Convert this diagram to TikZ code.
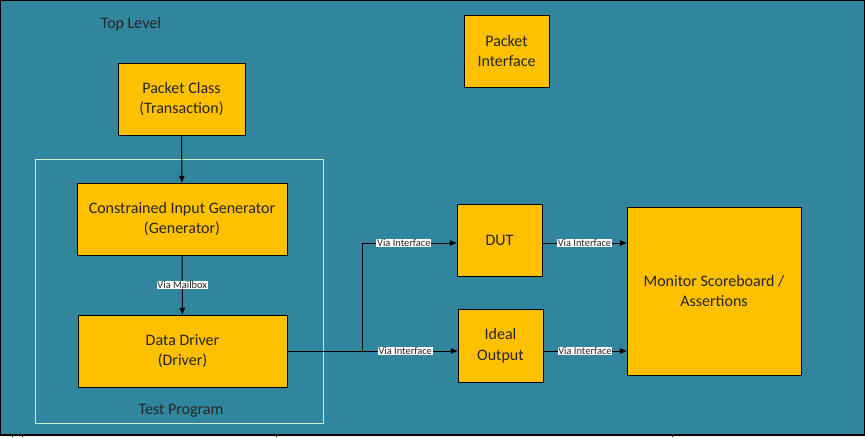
\documentclass[tikz,border=0pt]{standalone}
\usepackage{fontspec}
\setmainfont{Carlito}
\usetikzlibrary{arrows.meta,positioning,calc}
\definecolor{tealbg}{RGB}{49,133,156}
\definecolor{boxfill}{RGB}{255,192,0}
\definecolor{mint}{RGB}{204,236,206}
\tikzset{
  blk/.style={draw=black,line width=0.7pt,fill=boxfill,align=center,text=black!85,
    font=\fontsize{12}{15.5}\selectfont,inner sep=1pt},
  link/.style={line width=0.75pt,-{Triangle[length=5pt,width=4pt]}},
  via/.style={fill=white,text=black!85,font=\fontsize{7.8}{8.5}\selectfont,inner sep=0.6pt}
}
\begin{document}
\begin{tikzpicture}[x=0.75pt,y=-0.75pt]
\useasboundingbox (0,0) rectangle (865,437);
% Background frame
\fill[white] (0,0) rectangle (865,437);
\draw[fill=tealbg,line width=1pt] (0.5,0.5) rectangle (864.5,435);
\foreach \x in {12,22,276,672} {
  \draw[line width=0.6pt] (\x,435) -- (\x,437);
}
\node[text=black!85,font=\fontsize{12}{15}\selectfont] (top) at (131,24) {Top Level};
% Test program container
\draw[mint,line width=0.7pt] (35,159) rectangle (323,423);
\node[text=black!85,font=\fontsize{12}{15}\selectfont] (tprog) at (181,411) {Test Program};
% Blocks
\node[blk,minimum width=95.25pt,minimum height=54pt] (pkt) at (181.5,99) {Packet Class\\(Transaction)};
\node[blk,minimum width=63.75pt,minimum height=54pt] (pif) at (506.5,51) {Packet\\Interface};
\node[blk,minimum width=157.5pt,minimum height=54pt] (gen) at (182,219) {Constrained Input Generator\\(Generator)};
\node[blk,minimum width=156.75pt,minimum height=54pt] (drv) at (182.5,351) {Data Driver\\(Driver)};
\node[blk,minimum width=63.75pt,minimum height=54pt] (dut) at (499.5,240) {DUT};
\node[blk,minimum width=63.75pt,minimum height=54.75pt] (ideal) at (500.5,345.5) {Ideal\\Output};
\node[blk,minimum width=130.5pt,minimum height=126pt] (mon) at (714,291) {Monitor Scoreboard /\\Assertions};
% Connectors
\draw[link] (pkt) -- (gen);
\draw[link] (gen) -- node[via]{Via Mailbox} (drv);
\coordinate (jn) at ($(drv.east)+(75,0)$);
\draw[line width=0.75pt] (drv.east) -- (jn);
\draw[link] (jn) -- node[via,pos=0.45]{Via Interface} (jn -| ideal.west);
\draw[link] (jn) |- node[via,pos=0.72]{Via Interface} ($(dut.west)+(0,3)$);
\draw[link] ($(dut.east)+(0,3)$) -- node[via]{Via Interface} ($(dut.east -| mon.west)+(0,3)$);
\draw[link] (ideal.east |- jn) -- node[via]{Via Interface} (mon.west |- jn);
\end{tikzpicture}
\end{document}
